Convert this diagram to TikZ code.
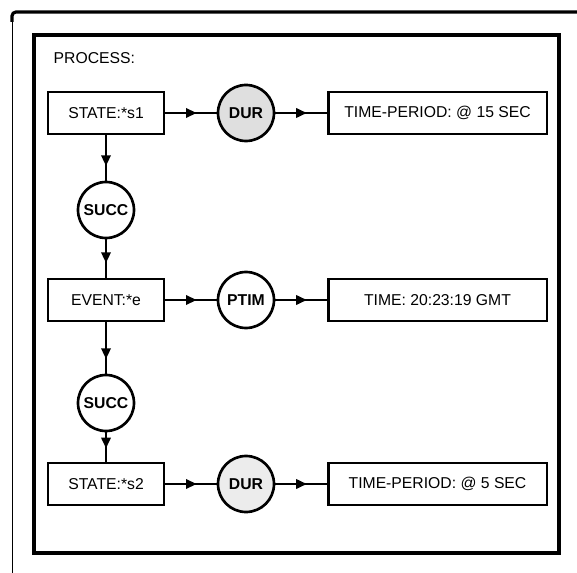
\documentclass[tikz,border=0pt]{standalone}
\usepackage{fontspec}
\setmainfont{Liberation Sans}
\usetikzlibrary{arrows.meta,decorations.markings}

\newcommand*{\colx}{106}
\newcommand*{\relx}{246}
\newcommand*{\valx}{437.5}

\tikzset{
  frame/.style={draw, line width=2.6pt},
  thing/.style={draw, rectangle, line width=2pt, minimum height=31.5pt, inner sep=0pt,
    font=\fontsize{11.8}{14}\selectfont},
  concept/.style={thing, minimum width=87pt},
  value/.style={thing, minimum width=164pt},
  rel/.style={draw, circle, line width=2pt, minimum size=42pt, inner sep=0pt,
    font=\fontsize{11.8}{14}\selectfont\bfseries},
  link/.style={line width=1.7pt, postaction={decorate},
    decoration={markings, mark=at position #1 with {\arrow{Triangle[length=8pt,width=7pt]}}}},
  link/.default=-11pt
}

\begin{document}
\begin{tikzpicture}[x=0.75pt,y=-0.75pt]

	\useasboundingbox (0,0) rectangle (577,573);

	% frames
	\draw[line width=0.6pt] (12,573) -- (12,16);
	\draw[line width=2.4pt, rounded corners=3pt] (12,22) -- (12,12) -- (577,12);
	\draw[frame] (34,35) rectangle (559,553);

	\node[anchor=west, font=\fontsize{11.8}{14}\selectfont] (proc) at (49,58) {PROCESS:};

	% concepts
	\node[concept] (s1) at (\colx,113) {STATE:*s1};
	\node[concept] (ev) at (\colx,300) {EVENT:*e};
	\node[concept] (s2) at (\colx,484) {STATE:*s2};

	\node[rel, fill=gray!25] (dur1) at (\relx,113) {DUR};
	\node[rel] (ptim) at (\relx,300) {PTIM};
	\node[rel, fill=gray!15] (dur2) at (\relx,484) {DUR};

	\node[value] (per1) at (\valx,113) {TIME-PERIOD: @ 15 SEC};
	\node[value] (tim) at (\valx,300) {TIME: 20:23:19 GMT};
	\node[value] (per2) at (\valx,484) {TIME-PERIOD: @ 5 SEC};

	\node[rel] (succ1) at (\colx,210) {SUCC};
	\node[rel] (succ2) at (\colx,403) {SUCC};

	% relations
	\draw[link=-15pt] (s1) -- (dur1);
	\draw[link=-15pt] (dur1) -- (per1);
	\draw[link=-15pt] (ev) -- (ptim);
	\draw[link=-15pt] (ptim) -- (tim);
	\draw[link=-15pt] (s2) -- (dur2);
	\draw[link=-15pt] (dur2) -- (per2);

	\draw[link] (s1) -- (succ1);
	\draw[link] (succ1) -- (ev);
	\draw[link] (ev) -- (succ2);
	\draw[link=-10pt] (succ2) -- (s2);

\end{tikzpicture}
\end{document}
